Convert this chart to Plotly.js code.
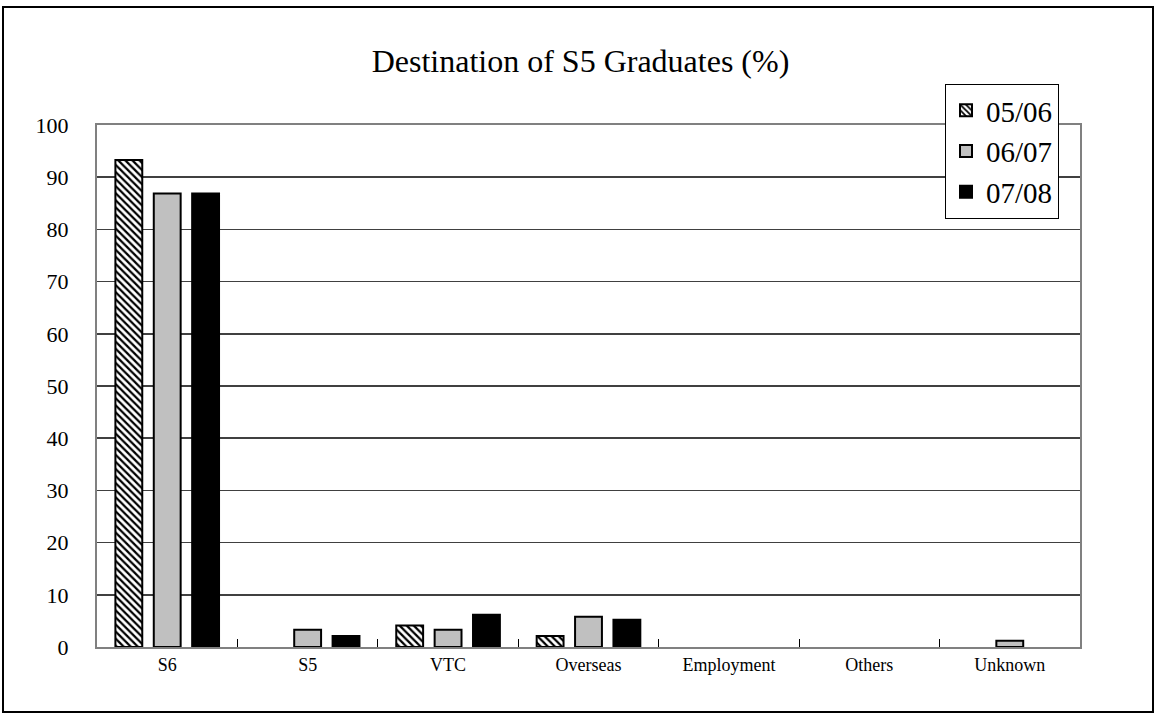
<!DOCTYPE html>
<html><head><meta charset="utf-8">
<script src="https://cdn.plot.ly/plotly-3.0.1.min.js"></script>
<style>html,body{margin:0;padding:0;background:#fff}#chart{width:1161px;height:718px}</style>
</head><body><div id="chart"></div>
<script>
const categories = ["S6","S5","VTC","Overseas","Employment","Others","Unknown"];
const seriesNames = ["05/06","06/07","07/08"];
const v0506 = [93.3, 0, 4.1, 2.1, 0, 0, 0];
const v0607 = [86.9, 3.3, 3.3, 5.8, 0, 0, 1.2];
const v0708 = [86.9, 2.1, 6.2, 5.2, 0, 0, 0];
const yTicks = [0,10,20,30,40,50,60,70,80,90,100];

const font = "Liberation Serif, DejaVu Serif, serif";
const mk = (name, y, color, pat) => ({
  type: 'bar', name, x: categories, y,
  marker: { color, line: {color: '#000', width: y.map(v => v > 0 ? 2 : 0)},
    pattern: pat ? {shape: '\\', fgcolor: '#000', bgcolor: '#fff', size: 5, solidity: 0.45} : undefined }
});
const data = [
  mk(seriesNames[0], v0506, '#fff', true),
  mk(seriesNames[1], v0607, '#c0c0c0', false),
  mk(seriesNames[2], v0708, '#000', false)
];
const L = 97, R = 81, T = 125, B = 71, W = 1161, H = 718;
const pw = W - L - R, ph = H - T - B;
const layout = {
  width: W, height: H,
  margin: {l: L, r: R, t: T, b: B},
  paper_bgcolor: '#fff', plot_bgcolor: '#fff',
  font: {family: font, color: '#000'},
  title: {text: 'Destination of S5 Graduates (%)', font: {family: font, size: 32, color: '#000'},
    x: 0.5, xanchor: 'center', y: 1 - 61/H, yanchor: 'middle'},
  barmode: 'group', bargap: 0.18, bargroupgap: 0.3,
  showlegend: true,
  legend: {x: 1 - (1161-945-R)/pw, xanchor: 'left', y: 1 + (T-84)/ph, yanchor: 'top',
    bordercolor: '#000', borderwidth: 1, bgcolor: '#fff',
    font: {family: font, size: 29, color: '#000'}, itemwidth: 30},
  xaxis: {showgrid: false, showline: true, linecolor: '#808080', linewidth: 2,
    ticks: 'inside', tickson: 'boundaries', ticklen: 8, tickcolor: '#000', tickwidth: 1,
    tickfont: {family: font, size: 18, color: '#000'}, mirror: true, fixedrange: true},
  yaxis: {range: [0, 100], tickvals: yTicks, ticktext: yTicks.map(String),
    showgrid: true, gridcolor: '#404040', gridwidth: 1.5, zeroline: false,
    showline: true, linecolor: '#808080', linewidth: 2, mirror: true, ticks: '',
    ticklabelstandoff: 22,
    tickfont: {family: font, size: 22, color: '#000'}, fixedrange: true},
  shapes: [{type: 'rect', xref: 'paper', yref: 'paper',
    x0: (3 - L)/pw, x1: (1153 - L)/pw, y0: -(712 - (H - B))/ph, y1: 1 + (T - 7)/ph,
    line: {color: '#000', width: 2}, fillcolor: 'rgba(0,0,0,0)', layer: 'below'}]
};
Plotly.newPlot('chart', data, layout, {displayModeBar: false, staticPlot: true});
</script></body></html>
